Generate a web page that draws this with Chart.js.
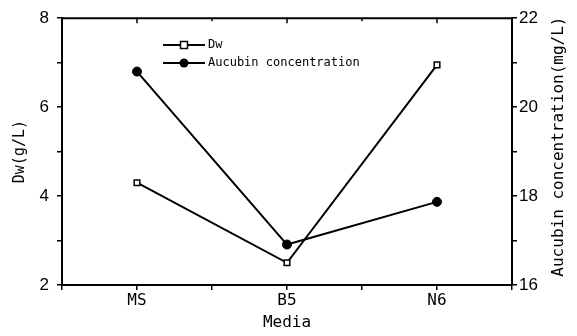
<!DOCTYPE html>
<html>
<head>
<meta charset="UTF-8">
<title>Dw and Aucubin</title>
<script src="https://cdn.jsdelivr.net/npm/chart.js"></script>
<style>
  * { margin: 0; padding: 0; }
  body { background: white; }
  canvas { display: block; }
</style>
</head>
<body>
<canvas id="grafica" width="577" height="336"></canvas>
<script>
const categories = ['MS', 'B5', 'N6'];
const dwValues = [4.30, 2.50, 6.95];
const aucubinValues = [20.80, 16.91, 17.87];
const dwTicks = [2, 4, 6, 8];
const aucubinTicks = [16, 18, 20, 22];
const rightTitle = 'Aucubin concentration(mg/L)';

const monoFont = "'DejaVu Sans Mono', monospace";
const numFont = "'Liberation Sans', Arial, sans-serif";

function toPoints(vals) {
  return vals.map((v, i) => ({ x: i + 1, y: v }));
}

// marco superior + ticks hacia dentro, titulo derecho girado y leyenda con linea+marcador
const framePlugin = {
  id: 'frame',
  afterDatasetsDraw(chart) {
    const ctx = chart.ctx;
    const a = chart.chartArea;
    const xs = chart.scales.x;
    ctx.save();
    ctx.strokeStyle = '#000';
    ctx.lineWidth = 2;
    ctx.beginPath();
    ctx.moveTo(a.left, a.top);
    ctx.lineTo(a.right, a.top);
    ctx.stroke();
    ctx.lineWidth = 1.5;
    xs.ticks.forEach(t => {
      const px = xs.getPixelForValue(t.value);
      const len = Number.isInteger(t.value) ? 5 : 3;
      ctx.beginPath();
      ctx.moveTo(px, a.top);
      ctx.lineTo(px, a.top + len);
      ctx.stroke();
    });

    // titulo eje derecho, se lee de abajo hacia arriba
    ctx.save();
    ctx.translate(559, (a.top + a.bottom) / 2 - 5);
    ctx.rotate(-Math.PI / 2);
    ctx.fillStyle = '#000';
    ctx.font = "16px " + monoFont;
    ctx.textAlign = 'center';
    ctx.textBaseline = 'middle';
    ctx.fillText(rightTitle, 0, 0);
    ctx.restore();

    // leyenda
    const rows = [45, 63];
    chart.data.datasets.forEach((ds, i) => {
      const y = rows[i];
      ctx.strokeStyle = '#000';
      ctx.lineWidth = 2;
      ctx.beginPath();
      ctx.moveTo(163, y);
      ctx.lineTo(205, y);
      ctx.stroke();
      ctx.fillStyle = ds.pointBackgroundColor;
      ctx.lineWidth = 1.5;
      ctx.beginPath();
      if (ds.pointStyle === 'rect') {
        ctx.rect(184 - 3.5, y - 3.5, 7, 7);
        ctx.fill();
        ctx.stroke();
      } else {
        ctx.arc(184, y, 4.5, 0, Math.PI * 2);
        ctx.fill();
      }
      ctx.fillStyle = '#000';
      ctx.font = "12px " + monoFont;
      ctx.textBaseline = 'middle';
      ctx.textAlign = 'left';
      ctx.fillText(ds.label, 208, y);
    });
    ctx.restore();
  }
};

const ctx = document.getElementById('grafica').getContext('2d');
const grafica = new Chart(ctx, {
  type: 'line',
  data: {
    datasets: [{
      label: 'Dw',
      data: toPoints(dwValues),
      yAxisID: 'y',
      borderColor: '#000',
      borderWidth: 2,
      pointStyle: 'rect',
      pointRadius: 4,
      pointBackgroundColor: '#fff',
      pointBorderColor: '#000',
      pointBorderWidth: 1.5,
      tension: 0
    }, {
      label: 'Aucubin concentration',
      data: toPoints(aucubinValues),
      yAxisID: 'y2',
      borderColor: '#000',
      borderWidth: 2,
      pointStyle: 'circle',
      pointRadius: 4.5,
      pointBackgroundColor: '#000',
      pointBorderColor: '#000',
      pointBorderWidth: 1,
      tension: 0
    }]
  },
  options: {
    responsive: false,
    animation: false,
    layout: { padding: { top: 15, left: 0, right: 0, bottom: 0 } },
    plugins: { legend: { display: false }, tooltip: { enabled: false } },
    scales: {
      x: {
        type: 'linear',
        min: 0.5, max: 3.5,
        afterFit(s) { s.height = 51; },
        afterBuildTicks(s) {
          s.ticks = [0.5, 1, 1.5, 2, 2.5, 3, 3.5].map(v => ({ value: v }));
        },
        ticks: {
          autoSkip: false,
          maxRotation: 0,
          padding: 1,
          color: '#000',
          font: { family: monoFont, size: 16 },
          callback: v => Number.isInteger(v) ? categories[v - 1] : ''
        },
        grid: { drawOnChartArea: false, drawTicks: true, tickLength: 5, color: '#000', lineWidth: 1.5 },
        border: { display: true, color: '#000', width: 2 },
        title: { display: true, text: 'Media', color: '#000', font: { family: monoFont, size: 16 }, padding: { top: 0, bottom: 4 } }
      },
      y: {
        position: 'left',
        min: 2, max: 8,
        afterFit(s) { s.width = 62; },
        afterBuildTicks(s) {
          s.ticks = [2, 3, 4, 5, 6, 7, 8].map(v => ({ value: v }));
        },
        ticks: {
          padding: 8,
          color: '#000',
          font: { family: numFont, size: 17 },
          callback: v => dwTicks.includes(v) ? String(v) : ''
        },
        grid: { drawOnChartArea: false, drawTicks: true, tickLength: 5, color: '#000', lineWidth: 1.5 },
        border: { display: true, color: '#000', width: 2 },
        title: { display: true, text: 'Dw(g/L)', color: '#000', font: { family: monoFont, size: 15 }, padding: { top: 11, bottom: 0 } }
      },
      y2: {
        position: 'right',
        min: 16, max: 22,
        afterFit(s) { s.width = 65; },
        afterBuildTicks(s) {
          s.ticks = [16, 17, 18, 19, 20, 21, 22].map(v => ({ value: v }));
        },
        ticks: {
          padding: 2,
          color: '#000',
          font: { family: numFont, size: 17 },
          callback: v => aucubinTicks.includes(v) ? String(v) : ''
        },
        grid: { drawOnChartArea: false, drawTicks: true, tickLength: 5, color: '#000', lineWidth: 1.5 },
        border: { display: true, color: '#000', width: 2 },
        title: { display: false }
      }
    }
  },
  plugins: [framePlugin]
});
</script>
</body>
</html>
